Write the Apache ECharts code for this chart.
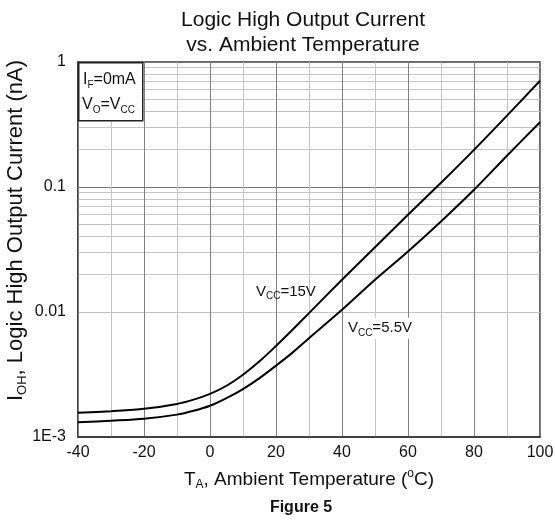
<!DOCTYPE html>
<html>
<head>
<meta charset="utf-8">
<script src="https://cdn.jsdelivr.net/npm/echarts@6/dist/echarts.min.js"></script>
<style>
html,body{margin:0;padding:0;background:#fff;}
#c{width:555px;height:520px;}
</style>
</head>
<body>
<div id="c"></div>
<script>
// ---- data ----
var temps = [-40, -30, -20, -10, -5, 0, 5, 10, 15, 20, 25, 30, 40, 50, 60, 70, 80, 90, 100];
var ioh15 = [1.56e-3, 1.61e-3, 1.68e-3, 1.84e-3, 1.99e-3, 2.21e-3, 2.57e-3, 3.15e-3, 4.03e-3, 5.35e-3, 7.2e-3, 9.8e-3, 0.0181, 0.033, 0.060, 0.108, 0.198, 0.372, 0.708];
var ioh55 = [1.31e-3, 1.35e-3, 1.40e-3, 1.51e-3, 1.62e-3, 1.78e-3, 2.05e-3, 2.42e-3, 2.96e-3, 3.72e-3, 4.73e-3, 6.17e-3, 0.0104, 0.0181, 0.0305, 0.053, 0.095, 0.178, 0.33];
var xTicks = [-40, -20, 0, 20, 40, 60, 80, 100];
var yTickLabels = ['1E-3', '0.01', '0.1', '1'];
var decades = [0.001, 0.01, 0.1];
var minorMult = [2, 3, 4, 5, 6, 7, 8, 9];

var FONT = '"Liberation Sans", Arial, sans-serif';
var chart = echarts.init(document.getElementById('c'), null, {renderer: 'canvas'});

function pairs(xs, ys) { return xs.map(function (x, i) { return [x, ys[i]]; }); }

var minorLines = [];
decades.forEach(function (d) {
  minorMult.forEach(function (m) { minorLines.push({yAxis: +(d * m).toPrecision(3)}); });
});

var subRich = function (big, small, fill) {
  return {
    n: {fontFamily: FONT, fontSize: big, lineHeight: big + 4, color: fill},
    s: {fontFamily: FONT, fontSize: small, lineHeight: small, verticalAlign: 'bottom', color: fill},
    p: {fontFamily: FONT, fontSize: small, lineHeight: small, verticalAlign: 'top', color: fill}
  };
};

var option = {
  backgroundColor: '#fff',
  animation: false,
  title: [{
    text: 'Logic High Output Current\nvs. Ambient Temperature',
    left: 298, top: 3, textAlign: 'center',
    textStyle: {fontFamily: FONT, fontSize: 21, fontWeight: 'normal', color: '#111', lineHeight: 25}
  }, {
    text: 'Figure 5',
    left: 296, top: 495, textAlign: 'center',
    textStyle: {fontFamily: FONT, fontSize: 16, fontWeight: 'bold', color: '#111'}
  }],
  grid: {left: 78, right: 15, top: 62, bottom: 83, containLabel: false, outerBoundsMode: 'none',
    show: true, borderColor: '#333', borderWidth: 1.5, backgroundColor: 'transparent'},
  xAxis: [{
    type: 'value', min: -40, max: 100, interval: 20, z: 2,
    name: '{n|T}{s|A}{n|, Ambient Temperature (}{p|o}{n|C)}',
    nameLocation: 'middle', nameGap: 31, nameMoveOverlap: false,
    nameTextStyle: {fontFamily: FONT, color: '#111', rich: subRich(19, 12, '#111')},
    axisLine: {show: true, onZero: false, lineStyle: {color: '#333', width: 1.5}},
    axisTick: {show: false},
    axisLabel: {
      fontFamily: FONT, fontSize: 16, color: '#111', margin: 8,
      formatter: function (v) { return xTicks.indexOf(v) >= 0 ? String(v) : ''; }
    },
    splitLine: {show: true, lineStyle: {color: '#808080', width: 1}}
  }, {
    type: 'value', min: -40, max: 100, interval: 10, z: 0, position: 'bottom',
    axisLine: {show: false}, axisTick: {show: false}, axisLabel: {show: false},
    splitLine: {show: true, lineStyle: {color: '#c4c4c4', width: 1}}
  }],
  yAxis: {
    type: 'log', logBase: 10, min: 0.001, max: 1,
    name: '{n|I}{s|OH}{n|, Logic High Output Current (nA)}',
    nameLocation: 'middle', nameGap: 49, nameRotate: 90, nameMoveOverlap: false,
    nameTextStyle: {fontFamily: FONT, color: '#111', padding: [0, 0, 0, 38], rich: subRich(22, 13, '#111')},
    axisLine: {show: true, onZero: false, lineStyle: {color: '#333', width: 1.5}},
    axisTick: {show: false},
    axisLabel: {
      fontFamily: FONT, fontSize: 16, color: '#111', margin: 12,
      formatter: function (v) {
        var i = Math.round(Math.log10(v)) + 3;
        return yTickLabels[i] || '';
      }
    },
    splitLine: {show: true, lineStyle: {color: '#777', width: 1}}
  },
  series: [{
    name: 'VCC=15V', type: 'line', smooth: 0.3, showSymbol: false, symbol: 'none', z: 5,
    xAxisIndex: 0,
    data: pairs(temps, ioh15),
    lineStyle: {color: '#000', width: 2},
    markPoint: {
      symbol: 'rect', symbolSize: 0, silent: true,
      label: {show: true, position: 'inside', formatter: '{n|V}{s|CC}{n|=15V}', rich: subRich(15, 10, '#111')},
      data: [{coord: [23, 0.0146]}]
    }
  }, {
    name: 'VCC=5.5V', type: 'line', smooth: 0.3, showSymbol: false, symbol: 'none', z: 5,
    xAxisIndex: 0,
    data: pairs(temps, ioh55),
    lineStyle: {color: '#000', width: 2},
    markLine: {
      silent: true, symbol: 'none', z: 1, animation: false,
      label: {show: false},
      lineStyle: {color: '#c4c4c4', type: 'solid', width: 1},
      data: minorLines
    },
    markPoint: {
      symbol: 'rect', symbolSize: 0, silent: true,
      label: {
        show: true, position: 'inside', backgroundColor: '#fff', padding: [1, 2],
        formatter: '{n|V}{s|CC}{n|=5.5V}', rich: subRich(15, 10, '#111')
      },
      data: [{coord: [51.5, 0.0074]}]
    }
  }],
  graphic: [{
    type: 'rect', left: 78, top: 62, z: 100,
    shape: {x: 0, y: 0, width: 64, height: 58},
    style: {fill: '#fff', stroke: '#222', lineWidth: 1.5}
  }, {
    type: 'text', left: 83, top: 72, z: 101,
    style: {
      text: '{n|I}{s|F}{n|=0mA}',
      rich: {
        n: {fontFamily: FONT, fontSize: 16, lineHeight: 20, fill: '#111'},
        s: {fontFamily: FONT, fontSize: 10, lineHeight: 11, verticalAlign: 'bottom', fill: '#111'}
      }
    }
  }, {
    type: 'text', left: 82, top: 97, z: 101,
    style: {
      text: '{n|V}{s|O}{n|=V}{s|CC}',
      rich: {
        n: {fontFamily: FONT, fontSize: 16, lineHeight: 20, fill: '#111'},
        s: {fontFamily: FONT, fontSize: 10, lineHeight: 11, verticalAlign: 'bottom', fill: '#111'}
      }
    }
  }]
};
chart.setOption(option);
</script>
</body>
</html>
